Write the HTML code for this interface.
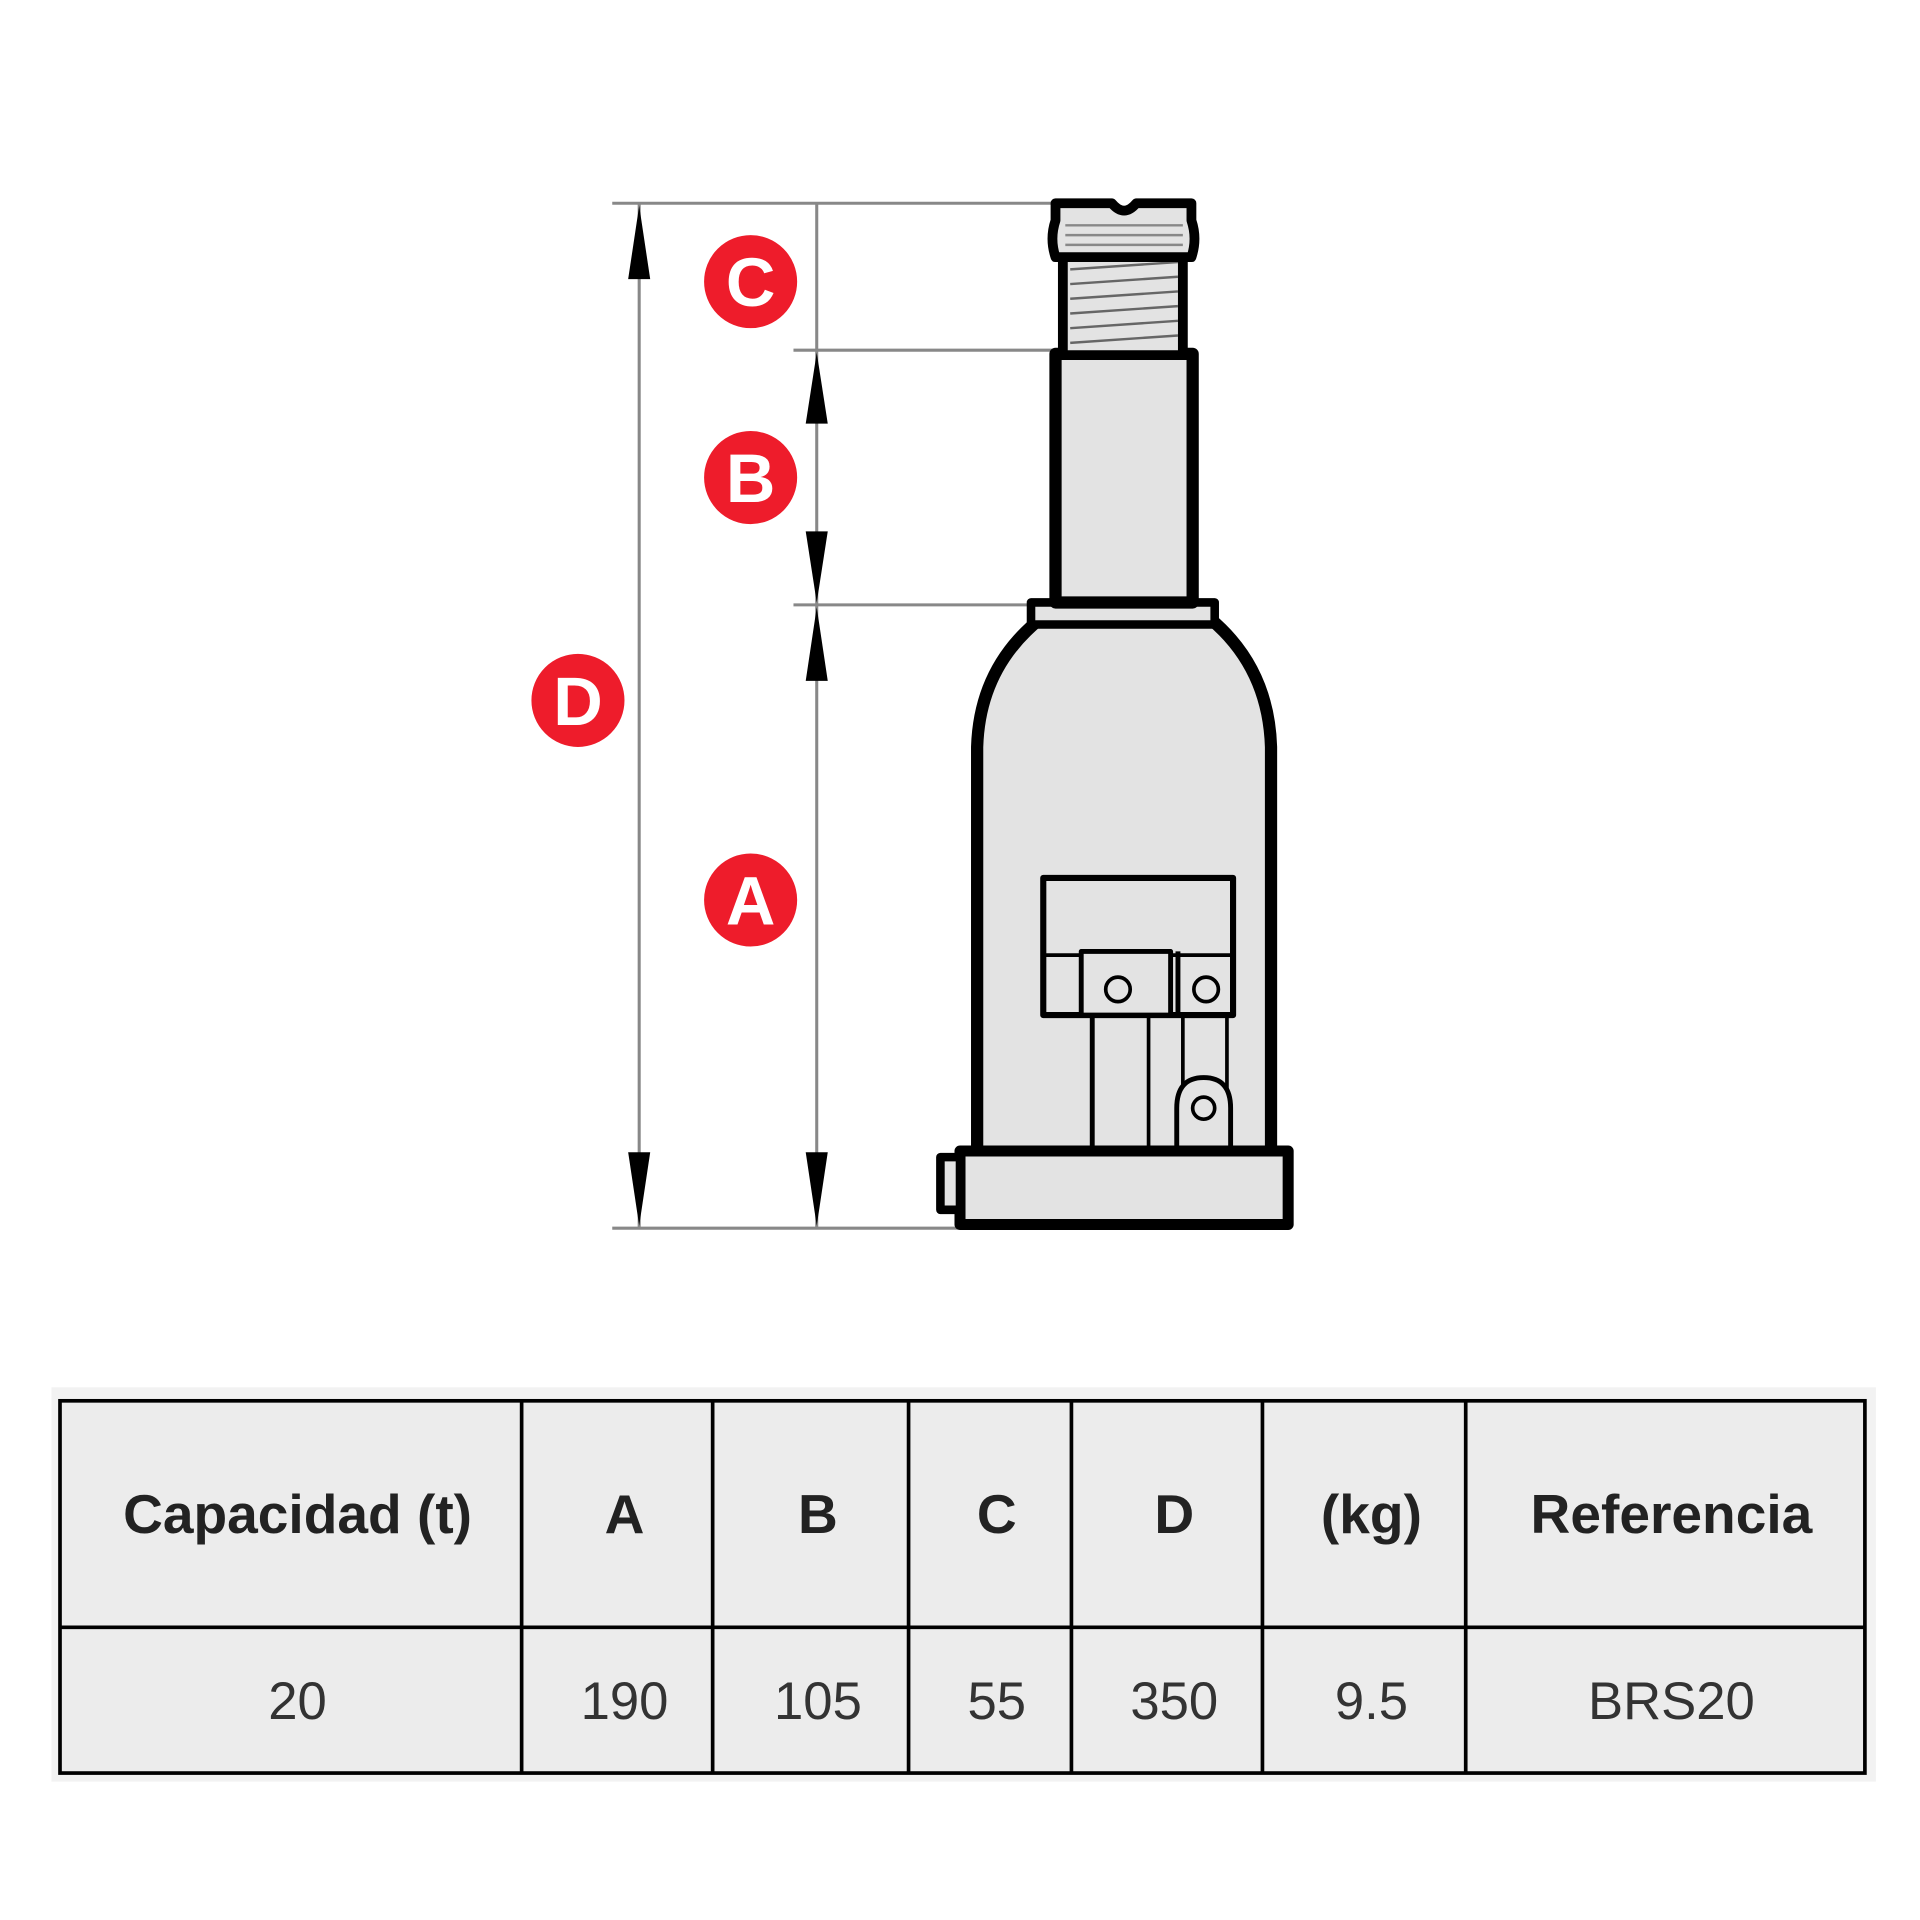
<!DOCTYPE html>
<html><head><meta charset="utf-8"><style>
html,body{margin:0;padding:0;background:#fff;}
svg{display:block;}
</style></head><body>
<svg width="1920" height="1920" viewBox="0 0 1568 1568" xmlns="http://www.w3.org/2000/svg">
<rect width="1568" height="1568" fill="#fff"/>
<g stroke="#888" stroke-width="2.5" fill="none">
<line x1="500" y1="166" x2="862" y2="166"/>
<line x1="648" y1="286" x2="862" y2="286"/>
<line x1="648" y1="494" x2="842" y2="494"/>
<line x1="500" y1="1003" x2="782" y2="1003"/>
<line x1="522" y1="166" x2="522" y2="1003"/>
<line x1="667" y1="166" x2="667" y2="1003"/>
</g>
<g fill="#000">
<polygon points="522,168 513,228 531,228"/>
<polygon points="522,1001 513,941 531,941"/>
<polygon points="667,288 658,346 676,346"/>
<polygon points="667,492 658,434 676,434"/>
<polygon points="667,496 658,556 676,556"/>
<polygon points="667,1001 658,941 676,941"/>
</g>
<g font-family="Liberation Sans, sans-serif" font-weight="bold" font-size="56" fill="#fff" text-anchor="middle">
<circle cx="613" cy="230" r="39" fill="#ee1c2b" stroke="#fff" stroke-width="2"/><text x="613" y="250">C</text>
<circle cx="613" cy="390" r="39" fill="#ee1c2b" stroke="#fff" stroke-width="2"/><text x="613" y="410">B</text>
<circle cx="472" cy="572" r="39" fill="#ee1c2b" stroke="#fff" stroke-width="2"/><text x="472" y="592">D</text>
<circle cx="613" cy="735" r="39" fill="#ee1c2b" stroke="#fff" stroke-width="2"/><text x="613" y="755">A</text>
</g>
<g stroke="#000" stroke-linejoin="round">
<path d="M850,505 Q800,545 798,610 L798,942 L1038,942 L1038,610 Q1036,545 988,505 Z" fill="#e3e3e3" stroke-width="10"/>
<rect x="842" y="492" width="150" height="18" fill="#e3e3e3" stroke-width="7"/>
<rect x="862" y="289" width="112" height="203" fill="#e3e3e3" stroke-width="10"/>
<rect x="868" y="210" width="98" height="80" fill="#e3e3e3" stroke-width="8"/>
<g stroke="#666" stroke-width="2">
<line x1="874" y1="220" x2="962" y2="214"/><line x1="874" y1="232" x2="962" y2="226"/>
<line x1="874" y1="244" x2="962" y2="238"/><line x1="874" y1="256" x2="962" y2="250"/>
<line x1="874" y1="268" x2="962" y2="262"/><line x1="874" y1="280" x2="962" y2="274"/>
</g>
<path d="M862,166 L908,166 Q918,178 928,166 L973,166 L973,180 Q978,195 973,210 L862,210 Q857,195 862,180 Z" fill="#e3e3e3" stroke-width="8"/>
<g stroke="#888" stroke-width="2"><line x1="870" y1="184" x2="966" y2="184"/><line x1="870" y1="192" x2="966" y2="192"/><line x1="870" y1="200" x2="966" y2="200"/></g>
<rect x="852" y="717" width="155" height="112" fill="#e3e3e3" stroke-width="5"/>
<line x1="852" y1="780" x2="1007" y2="780" stroke-width="3"/>
<rect x="883" y="777" width="73" height="52" fill="#e3e3e3" stroke-width="4"/>
<line x1="962" y1="777" x2="962" y2="829" stroke-width="4"/>
<circle cx="913" cy="808" r="10" fill="#e3e3e3" stroke-width="3"/>
<circle cx="985" cy="808" r="10" fill="#e3e3e3" stroke-width="3"/>
<line x1="892" y1="829" x2="892" y2="942" stroke-width="4"/>
<line x1="938" y1="829" x2="938" y2="942" stroke-width="3"/>
<line x1="966" y1="829" x2="966" y2="942" stroke-width="3"/>
<line x1="1002" y1="829" x2="1002" y2="942" stroke-width="3"/>
<path d="M961,942 L961,905 Q961,880 983,880 Q1005,880 1005,905 L1005,942" fill="#e3e3e3" stroke-width="4"/>
<circle cx="983" cy="905" r="9" fill="#e3e3e3" stroke-width="3"/>
<rect x="784" y="940" width="268" height="60" fill="#e3e3e3" stroke-width="9"/>
<rect x="768" y="945" width="16" height="43" fill="#e3e3e3" stroke-width="7"/>
</g>
<rect x="42" y="1133" width="1490" height="322" fill="#f2f2f2"/>
<rect x="49" y="1144" width="1474" height="304" fill="#ececec" stroke="#000" stroke-width="3"/>
<g stroke="#000" stroke-width="3">
<line x1="49" y1="1329" x2="1523" y2="1329"/>
<line x1="426" y1="1144" x2="426" y2="1448"/>
<line x1="582" y1="1144" x2="582" y2="1448"/>
<line x1="742" y1="1144" x2="742" y2="1448"/>
<line x1="875" y1="1144" x2="875" y2="1448"/>
<line x1="1031" y1="1144" x2="1031" y2="1448"/>
<line x1="1197" y1="1144" x2="1197" y2="1448"/>
</g>
<g font-family="Liberation Sans, DejaVu Sans, sans-serif" text-anchor="middle" fill="#222">
<g font-weight="bold" font-size="45">
<text x="243" y="1252">Capacidad (t)</text>
<text x="510" y="1252">A</text>
<text x="668" y="1252">B</text>
<text x="814" y="1252">C</text>
<text x="959" y="1252">D</text>
<text x="1120" y="1252">(kg)</text>
<text x="1365" y="1252">Referencia</text>
</g>
<g fill="#333" font-size="43">
<text x="243" y="1404">20</text>
<text x="510" y="1404">190</text>
<text x="668" y="1404">105</text>
<text x="814" y="1404">55</text>
<text x="959" y="1404">350</text>
<text x="1120" y="1404">9.5</text>
<text x="1365" y="1404">BRS20</text>
</g>
</g>
</svg>
</body></html>
